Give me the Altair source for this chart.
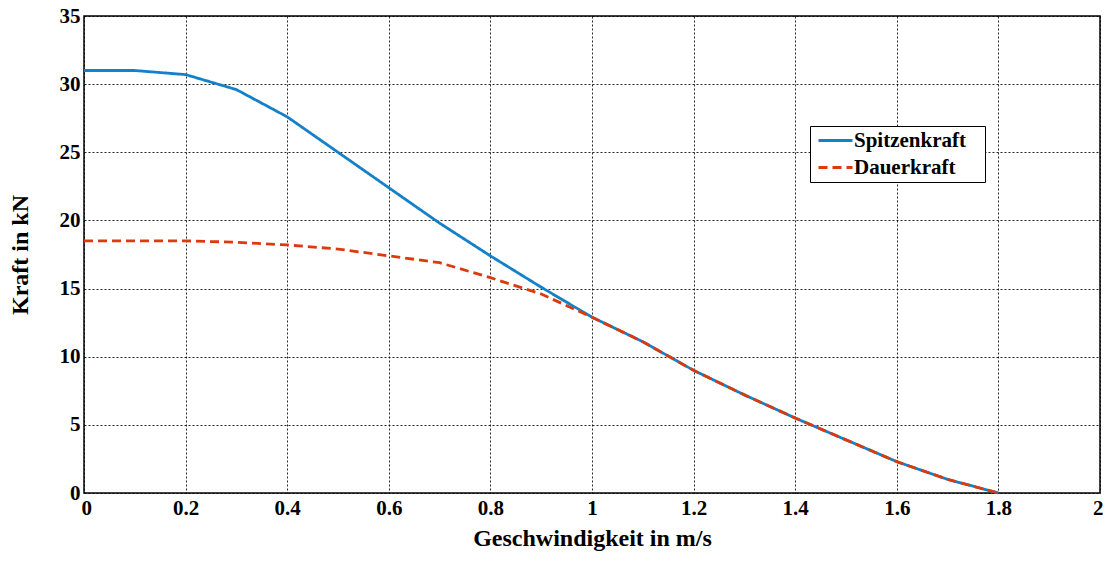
import altair as alt
import pandas as pd

speed = [0.0, 0.1, 0.2, 0.3, 0.4, 0.5, 0.6, 0.7, 0.8, 0.9, 1.0,
         1.1, 1.2, 1.3, 1.4, 1.5, 1.6, 1.7, 1.8]
spitzenkraft = [31.0, 31.0, 30.7, 29.6, 27.6, 25.0, 22.4, 19.8, 17.4, 15.1, 12.9,
                11.1, 9.0, 7.2, 5.5, 3.9, 2.3, 1.0, 0.0]
dauerkraft = [18.5, 18.5, 18.5, 18.4, 18.2, 17.9, 17.4, 16.9, 15.8, 14.6, 12.9,
              11.1, 9.0, 7.2, 5.5, 3.9, 2.3, 1.0, 0.0]
series = ["Spitzenkraft", "Dauerkraft"]
colors = ["#1480c8", "#dc3a0c"]
x_ticks = [0, 0.2, 0.4, 0.6, 0.8, 1.0, 1.2, 1.4, 1.6, 1.8, 2.0]
y_ticks = [0, 5, 10, 15, 20, 25, 30, 35]

rows = []
for s, vals in zip(series, [spitzenkraft, dauerkraft]):
    for xv, yv in zip(speed, vals):
        rows.append({"v": xv, "F": yv, "Serie": s})
df = pd.DataFrame(rows)

FONT = "Liberation Serif"

x_enc = alt.X("v:Q", scale=alt.Scale(domain=[0, 2], nice=False),
              axis=alt.Axis(values=x_ticks, title="Geschwindigkeit in m/s",
                            labelExpr="format(datum.value, '~g')"))
y_enc = alt.Y("F:Q", scale=alt.Scale(domain=[0, 35], nice=False),
              axis=alt.Axis(values=y_ticks, title="Kraft in kN"))
color_enc = alt.Color("Serie:N", scale=alt.Scale(domain=series, range=colors),
                      legend=alt.Legend(title="\u2003", titleOrient="right",
                                        titleFontSize=4, titlePadding=15,
                                        orient="none", legendX=726, legendY=110,
                                        symbolType="M-2,0H2", symbolSize=289,
                                        symbolStrokeWidth=3,
                                        labelFont=FONT, labelFontWeight="bold",
                                        labelFontSize=21, labelColor="black",
                                        strokeColor="black", fillColor="white",
                                        padding=4, rowPadding=5, labelOffset=8,
                                        symbolOffset=11))
dash_enc = alt.StrokeDash("Serie:N", scale=alt.Scale(domain=series, range=[[1, 0], [9, 5]]),
                          legend=None)

base = alt.Chart(df).mark_line(strokeWidth=2.8).encode(
    x=x_enc, y=y_enc, color=color_enc, strokeDash=dash_enc,
)
line1 = base.transform_filter(alt.datum.Serie == "Spitzenkraft")
line2 = base.transform_filter(alt.datum.Serie == "Dauerkraft")

chart = alt.layer(line1, line2).properties(
    width=1016, height=477,
    autosize=alt.AutoSizeParams(type="none"),
    padding={"left": 76, "top": 8, "right": 3, "bottom": 58},
).configure_view(
    stroke="black", strokeWidth=1.5
).configure_axis(
    labelFont=FONT, labelFontWeight="bold", labelFontSize=21, labelColor="black",
    titleFont=FONT, titleFontWeight="bold", titleFontSize=24, titleColor="black",
    grid=True, gridColor="black", gridDash=[2, 2], gridWidth=1, gridOpacity=0.85,
    ticks=False, domain=False,
).configure_axisX(
    labelPadding=4, titlePadding=8, labelFlush=True, labelFlushOffset=3,
).configure_axisY(
    labelPadding=4, titlePadding=27, labelFlush=False,
)

chart.save("out.html", embed_options={"renderer": "svg", "actions": False})
